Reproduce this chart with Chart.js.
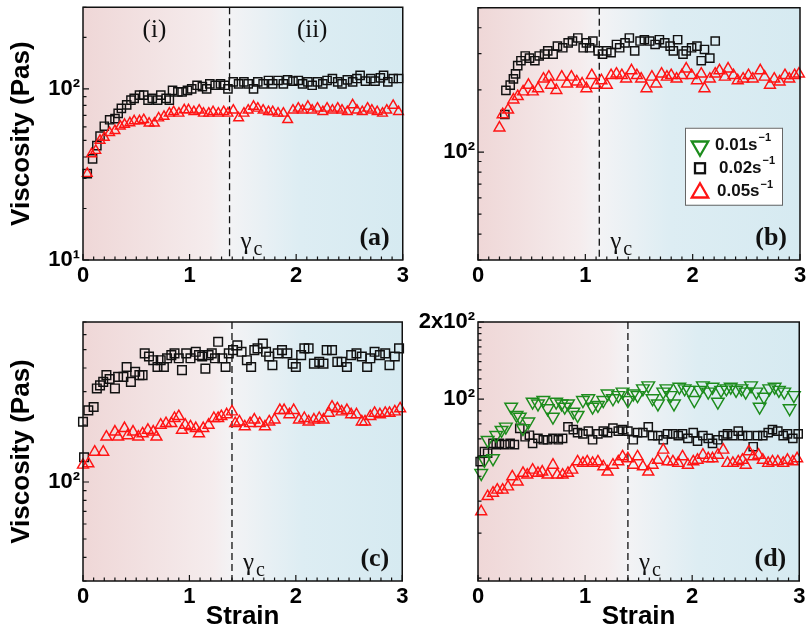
<!DOCTYPE html>
<html><head><meta charset="utf-8">
<script src="https://cdn.jsdelivr.net/npm/chart.js@4.4.1/dist/chart.umd.min.js"></script>
<style>
html,body{margin:0;padding:0;background:#fff;width:808px;height:636px;overflow:hidden;}
canvas{position:absolute;}
</style></head><body>
<canvas id="ca" width="410" height="300" style="left:0;top:0"></canvas>
<canvas id="cb" width="398" height="300" style="left:410px;top:0"></canvas>
<canvas id="cc" width="410" height="336" style="left:0;top:300px"></canvas>
<canvas id="cd" width="398" height="336" style="left:410px;top:300px"></canvas>
<script>
// ---------- data ----------
const panelLetters = ['(a)', '(b)', '(c)', '(d)'];
const gammaC = [1.375, 1.13, 1.40, 1.40];
const rateLabels = ['0.01s', '0.02s', '0.05s'];
const axisTitleY = 'Viscosity (Pas)';
const axisTitleX = 'Strain';
const regionLabels = ['(i)', '(ii)'];
const regionLabelStrain = [0.67, 2.15];

const xTickValues = Array.from({length: 31}, (_, i) => i / 10);
const xTickLabels = ['0', '1', '2', '3'];

const yRangeA = [10, 300];
const yRangeB = [30, 500];
const yRangeC = [30, 700];
const yRangeD = [19.5, 200];
const yTicksA = [10, 20, 30, 40, 50, 60, 70, 80, 90, 100, 200, 300];
const yTicksB = [30, 40, 50, 60, 70, 80, 90, 100, 200, 300, 400, 500];
const yTicksC = [30, 40, 50, 60, 70, 80, 90, 100, 200, 300, 400, 500, 600, 700];
const yTicksD = [20, 30, 40, 50, 60, 70, 80, 90, 100, 110, 120, 130, 140, 150, 160, 170, 180, 190, 200];
const yLabelValA = [10, 100];   const yLabelTxtA = ['10\u00b9', '10\u00b2'];
const yLabelValB = [100];       const yLabelTxtB = ['10\u00b2'];
const yLabelValC = [100];       const yLabelTxtC = ['10\u00b2'];
const yLabelValD = [100, 200];  const yLabelTxtD = ['10\u00b2', '2x10\u00b2'];

// (a)
const aSqStrain = [0.04,0.09,0.13,0.16,0.20,0.25,0.30,0.33,0.36,0.41,0.45,0.48,0.53,0.57,0.61,0.65,0.70,0.73,0.78,0.81,0.84,0.89,0.93,0.98,1.02,1.07,1.12,1.16,1.19,1.24,1.29,1.33,1.36,1.41,1.46,1.51,1.55,1.60,1.64,1.69,1.74,1.78,1.83,1.88,1.92,1.97,2.02,2.06,2.11,2.15,2.20,2.25,2.29,2.34,2.39,2.43,2.48,2.53,2.57,2.60,2.65,2.70,2.74,2.79,2.82,2.86,2.91,2.96];
const aSqVisc = [32,39,46.6,53,60.5,66,67,72,77,80.6,86,88,92,92,86,88,86,92,88,86,98,96,96,98,100,105,103,100,107,105,107,105,100,110,107,110,107,100,110,107,112,107,112,107,113,111,112,107,110,105,110,107,112,115,110,107,113,110,115,120,111,115,111,116,120,110,115,115];
const aTriStrain = [0.04,0.08,0.12,0.16,0.20,0.25,0.30,0.35,0.39,0.44,0.48,0.53,0.57,0.62,0.67,0.71,0.76,0.81,0.85,0.90,0.95,0.99,1.04,1.09,1.13,1.18,1.22,1.27,1.32,1.36,1.41,1.46,1.51,1.55,1.60,1.64,1.69,1.74,1.78,1.83,1.88,1.92,1.97,2.02,2.06,2.11,2.15,2.20,2.25,2.29,2.34,2.39,2.43,2.48,2.53,2.57,2.62,2.67,2.71,2.76,2.81,2.85,2.91,2.96];
const aTriVisc = [32,41.7,43.6,50,52,55.5,57,60.5,62,63.3,65,65,66,63,63,67.5,69,72,73.5,72,75.4,75.4,73.5,75,72,72,73.5,72,73.5,72,75,67.6,72,75,79,77,75,73.5,73.5,72,72,66,75,77,75,79,75,77,73.5,77,75,77,75,73.5,80.6,75,73.5,77,75,73.5,72,75,80,73.5];

// (b)
const bSqStrain = [0.25,0.26,0.30,0.33,0.35,0.37,0.40,0.44,0.48,0.53,0.57,0.62,0.65,0.70,0.74,0.79,0.84,0.88,0.93,0.98,1.01,1.04,1.07,1.12,1.16,1.20,1.24,1.29,1.32,1.37,1.41,1.46,1.51,1.55,1.60,1.65,1.69,1.74,1.79,1.82,1.86,1.91,1.94,1.99,2.04,2.08,2.11,2.16,2.21];
const bSqVisc = [152,199,211,226,239,262,277,292,285,277,292,298,309,298,326,320,338,345,357,320,338,320,345,309,298,309,303,332,320,338,357,309,345,350,345,332,350,338,326,309,350,298,309,320,326,277,314,285,345];
const bTriStrain = [0.20,0.23,0.28,0.33,0.37,0.42,0.47,0.51,0.56,0.61,0.66,0.68,0.73,0.78,0.83,0.87,0.92,0.97,1.01,1.06,1.10,1.15,1.20,1.24,1.29,1.34,1.38,1.43,1.48,1.52,1.57,1.62,1.66,1.71,1.76,1.80,1.85,1.90,1.94,1.99,2.04,2.08,2.11,2.16,2.21,2.25,2.30,2.33,2.38,2.42,2.47,2.52,2.56,2.63,2.67,2.72,2.76,2.81,2.86,2.90,2.95,2.99];
const bTriVisc = [131,152,160,179,186,196,211,196,203,226,231,211,199,231,214,231,219,214,203,235,211,222,211,235,239,235,226,248,235,226,203,231,214,239,231,235,226,235,253,235,222,239,203,226,239,248,231,253,235,222,226,235,226,248,231,211,226,219,235,226,235,239];

// (c)
const cSqStrain = [0.00,0.01,0.05,0.10,0.13,0.16,0.19,0.22,0.25,0.30,0.33,0.38,0.41,0.45,0.49,0.53,0.56,0.58,0.62,0.66,0.70,0.73,0.76,0.79,0.83,0.86,0.90,0.93,0.97,1.01,1.06,1.09,1.12,1.15,1.18,1.21,1.24,1.27,1.31,1.34,1.37,1.41,1.45,1.49,1.54,1.58,1.61,1.64,1.69,1.72,1.75,1.78,1.83,1.87,1.92,1.97,2.00,2.05,2.08,2.12,2.17,2.22,2.26,2.29,2.34,2.39,2.43,2.48,2.52,2.57,2.62,2.67,2.70,2.74,2.79,2.84,2.88,2.93,2.97];
const cSqVisc = [208,135,239,249,312,324,338,367,350,312,359,359,405,338,382,367,367,478,460,440,405,440,405,450,468,478,450,390,478,450,487,468,460,397,468,478,450,550,450,405,478,497,527,487,440,405,497,508,538,487,460,414,478,497,478,422,405,468,508,508,422,431,422,497,497,431,431,405,468,478,460,405,450,487,468,478,414,460,508];
const cTriStrain = [0.00,0.05,0.11,0.19,0.22,0.30,0.33,0.39,0.42,0.47,0.52,0.56,0.61,0.66,0.69,0.73,0.78,0.83,0.86,0.90,0.93,0.96,1.01,1.06,1.09,1.13,1.18,1.23,1.27,1.30,1.35,1.40,1.43,1.47,1.52,1.57,1.61,1.66,1.71,1.75,1.80,1.85,1.89,1.94,1.98,2.03,2.08,2.12,2.17,2.22,2.26,2.31,2.34,2.39,2.43,2.48,2.52,2.57,2.62,2.65,2.70,2.74,2.79,2.84,2.88,2.93,2.98];
const cTriVisc = [123,125,144,144,173,184,173,192,176,184,173,180,188,184,173,200,204,204,217,222,188,200,196,192,180,192,200,217,217,222,227,235,204,208,196,204,213,204,196,208,213,239,239,227,239,213,217,208,213,217,213,231,249,244,235,239,227,227,208,208,222,231,227,231,231,235,244];

// (d)
const dGrStrain = [0.03,0.06,0.09,0.14,0.17,0.22,0.26,0.31,0.36,0.39,0.42,0.47,0.51,0.56,0.61,0.65,0.70,0.73,0.78,0.81,0.84,0.89,0.93,0.98,1.03,1.07,1.12,1.17,1.21,1.26,1.31,1.35,1.40,1.45,1.49,1.54,1.59,1.63,1.68,1.73,1.76,1.80,1.83,1.88,1.93,1.97,2.02,2.07,2.10,2.15,2.19,2.24,2.27,2.32,2.36,2.41,2.46,2.50,2.55,2.60,2.63,2.67,2.72,2.77,2.81,2.86,2.91,2.95];
const dGrVisc = [51.4,57.8,69.2,58.7,72.4,75.7,78,93.3,86.6,85.3,76.9,81.6,97.6,96,99,92,85.3,97.6,96,93.3,96,89.2,86.6,99,100.6,93.3,94.8,99,105,100.6,103.5,106.8,99,105,103.5,110,113,100.6,96,106.8,110,103.5,96,111.6,110,108.5,99,108.5,113,106.8,111.6,97.6,108.5,110,111.6,108.5,110,106.8,113,106.8,93.3,102,110,111.6,108.5,106.8,92,103.5];
const dSqStrain = [0.02,0.06,0.09,0.14,0.17,0.20,0.25,0.30,0.34,0.39,0.44,0.48,0.51,0.56,0.61,0.65,0.70,0.75,0.79,0.84,0.89,0.93,0.98,1.03,1.07,1.12,1.17,1.21,1.26,1.31,1.35,1.40,1.45,1.49,1.54,1.59,1.63,1.68,1.73,1.77,1.82,1.87,1.91,1.96,2.01,2.05,2.10,2.15,2.19,2.24,2.29,2.33,2.38,2.43,2.47,2.52,2.57,2.61,2.66,2.71,2.75,2.80,2.85,2.89,2.94,2.99];
const dSqVisc = [57,62.4,61.5,67.2,66.4,67.2,66.4,67.2,66.4,76.9,71.3,72.3,67.2,70.3,69.4,69.4,70.3,69.4,70.3,78,76,74,73.2,75,69.4,73.2,75,74,77,75,76,75,69.4,74,74,78,72,72,69.4,73.2,73.2,72,73.2,70.3,74,68.6,72,70.3,67.2,69.4,72,73.2,72,75,72,72,65.2,72,72,74,76,75,72,73.2,70.3,73.2];
const dTriStrain = [0.03,0.09,0.14,0.18,0.23,0.28,0.32,0.37,0.42,0.46,0.51,0.56,0.60,0.65,0.70,0.74,0.79,0.84,0.88,0.93,0.98,1.02,1.07,1.12,1.17,1.21,1.26,1.31,1.35,1.40,1.45,1.49,1.54,1.59,1.63,1.68,1.73,1.77,1.82,1.87,1.91,1.96,2.01,2.05,2.10,2.15,2.19,2.24,2.29,2.33,2.38,2.43,2.47,2.50,2.53,2.57,2.62,2.66,2.71,2.75,2.80,2.85,2.89,2.94,2.98];
const dTriVisc = [36.4,41.7,43,44.2,44.2,45.5,49.8,47.5,51.4,50.6,52.9,51.4,52,50.6,55.3,50.6,50.6,51.4,52.9,57,56.2,57,56.2,57,54.5,52,55.3,57,59.6,58.6,55.3,59.6,54.5,52,55.3,57.8,63.3,57,57,56.2,59.6,55.3,57,57.8,60.5,58.6,58.6,60.5,63.3,56.2,56.2,57,57.8,55.3,62.4,59.6,60.5,57.8,56.2,57,57,56.2,57.8,57,58.6];

// ---------- styles ----------
const GREEN = '#1c8c1c', BLACK = '#111111', RED = '#ff1414';
const SANS = '"Liberation Sans", Arial, sans-serif';
const SERIF = '"Liberation Serif", "Times New Roman", serif';

function pts(xs, ys) { return xs.map((x, i) => ({x, y: ys[i]})); }
function series(xs, ys, kind, r) {
  const base = {data: pts(xs, ys), showLine: false, clip: false, pointBackgroundColor: 'rgba(0,0,0,0)', pointBorderWidth: 1.45, pointHoverRadius: r};
  if (kind === 'sq') return Object.assign(base, {pointStyle: 'rect', pointRadius: r, pointBorderColor: BLACK});
  if (kind === 'up') return Object.assign(base, {pointStyle: 'triangle', pointRadius: r, pointBorderColor: RED});
  return Object.assign(base, {pointStyle: 'triangle', pointRotation: 180, pointRadius: r, pointBorderColor: GREEN});
}

function tri(ctx, x, y, r, down) {
  const s = down ? -1 : 1;
  ctx.beginPath();
  ctx.moveTo(x, y - s * r);
  ctx.lineTo(x + r * 0.866, y + s * r * 0.5);
  ctx.lineTo(x - r * 0.866, y + s * r * 0.5);
  ctx.closePath();
  ctx.stroke();
}

const deco = {
  id: 'deco',
  beforeDraw(chart, args, o) {
    const {ctx, chartArea: a} = chart;
    const x = chart.scales.x;
    const fx = (x.getPixelForValue(o.gamma) - a.left) / (a.right - a.left);
    const g = ctx.createLinearGradient(a.left, 0, a.right, 0);
    g.addColorStop(0, 'rgb(239,215,215)');
    g.addColorStop(Math.max(0.01, fx - 0.06), 'rgb(245,236,237)');
    g.addColorStop(fx, 'rgb(243,243,245)');
    g.addColorStop(Math.min(0.99, fx + 0.22), 'rgb(221,237,243)');
    g.addColorStop(1, 'rgb(214,234,241)');
    ctx.save();
    ctx.fillStyle = g;
    ctx.fillRect(a.left, a.top, a.right - a.left, a.bottom - a.top);
    ctx.restore();
  },
  beforeDatasetsDraw(chart, args, o) {
    const {ctx, chartArea: a} = chart;
    const px = chart.scales.x.getPixelForValue(o.gamma);
    ctx.save();
    ctx.strokeStyle = '#111';
    ctx.lineWidth = 1.3;
    ctx.setLineDash([7, 4]);
    ctx.beginPath();
    ctx.moveTo(px, a.top);
    ctx.lineTo(px, a.bottom);
    ctx.stroke();
    ctx.setLineDash([]);
    ctx.fillStyle = '#111';
    ctx.textAlign = 'left';
    ctx.textBaseline = 'alphabetic';
    ctx.font = '25px ' + SERIF;
    ctx.fillText('\u03b3', px + 11, a.bottom - 11);
    ctx.font = '20px ' + SERIF;
    ctx.fillText('c', px + 24, a.bottom - 5);
    ctx.restore();
  },
  afterDatasetsDraw(chart, args, o) {
    const {ctx, chartArea: a} = chart;
    const xs = chart.scales.x, ys = chart.scales.y;
    ctx.save();
    // frame
    ctx.strokeStyle = '#111';
    ctx.lineWidth = 1.5;
    ctx.strokeRect(a.left, a.top, a.right - a.left, a.bottom - a.top);
    // inward ticks
    ctx.lineWidth = 1.2;
    ctx.beginPath();
    xs.ticks.forEach(t => {
      const p = xs.getPixelForValue(t.value);
      const len = t.label ? 6 : 3.5;
      ctx.moveTo(p, a.bottom);
      ctx.lineTo(p, a.bottom - len);
    });
    ys.ticks.forEach(t => {
      const p = ys.getPixelForValue(t.value);
      const len = t.label ? 6 : 3.5;
      ctx.moveTo(a.left, p);
      ctx.lineTo(a.left + len, p);
    });
    ctx.stroke();
    // panel letter
    ctx.fillStyle = '#111';
    ctx.font = 'bold 26px ' + SERIF;
    ctx.textAlign = 'right';
    ctx.textBaseline = 'alphabetic';
    ctx.fillText(o.letter, a.right - 13, a.bottom - 15);
    // region labels
    if (o.roman) {
      ctx.font = '25px ' + SERIF;
      ctx.textAlign = 'center';
      regionLabels.forEach((s, i) => {
        ctx.fillText(s, xs.getPixelForValue(regionLabelStrain[i]), a.top + 30);
      });
    }
    // legend
    if (o.legend) {
      const bx = a.left + 207, by = a.top + 120, bw = a.right - 18 - bx, bh = 77;
      ctx.fillStyle = '#ffffff';
      ctx.fillRect(bx, by, bw, bh);
      ctx.strokeStyle = '#666';
      ctx.lineWidth = 1;
      ctx.strokeRect(bx + 0.5, by + 0.5, bw, bh);
      const rowY = [a.top + 137.5, a.top + 160.5, a.top + 184];
      const mx = a.left + 222;
      ctx.lineWidth = 2.3;
      ctx.strokeStyle = GREEN; tri(ctx, mx, rowY[0] + 1, 9.5, true);
      ctx.strokeStyle = BLACK; ctx.strokeRect(mx - 5, rowY[1] - 5, 10, 10);
      ctx.strokeStyle = RED; tri(ctx, mx, rowY[2] + 1, 9.5, false);
      const tx = [a.left + 237, a.left + 241, a.left + 239];
      ctx.fillStyle = '#111';
      ctx.textAlign = 'left';
      ctx.textBaseline = 'middle';
      rateLabels.forEach((s, i) => {
        ctx.font = 'bold 17px ' + SANS;
        ctx.fillText(s, tx[i], rowY[i]);
        const w = ctx.measureText(s).width;
        ctx.font = 'bold 11px ' + SANS;
        ctx.fillText('\u22121', tx[i] + w + 1, rowY[i] - 7);
      });
    }
    ctx.restore();
  }
};

function makeChart(id, p) {
  const labelOf = (v) => {
    const i = p.yLabelVal.findIndex(u => Math.abs(u - v) < 1e-9);
    return i >= 0 ? p.yLabelTxt[i] : '';
  };
  return new Chart(document.getElementById(id), {
    type: 'scatter',
    data: {datasets: p.datasets},
    options: {
      responsive: false,
      animation: false,
      events: [],
      layout: {padding: {top: p.padTop, right: p.padRight, left: 0, bottom: 0}},
      plugins: {
        legend: {display: false},
        tooltip: {enabled: false},
        deco: {gamma: p.gamma, letter: p.letter, roman: p.roman, legend: p.legend}
      },
      scales: {
        x: {
          type: 'linear', min: 0, max: 3,
          afterBuildTicks: s => { s.ticks = xTickValues.map(v => ({value: v})); },
          afterFit: s => { s.height = p.xHeight; s.paddingLeft = 0; s.paddingRight = 0; },
          grid: {display: false, drawTicks: false},
          border: {display: false},
          ticks: {
            autoSkip: false, maxRotation: 0, minRotation: 0, padding: 3, color: '#000',
            font: {family: SANS, size: 22, weight: 'bold'},
            callback: v => {
              const r = Math.round(v);
              return Math.abs(v - r) < 1e-6 ? xTickLabels[r] : '';
            }
          },
          title: {display: p.xTitle, text: axisTitleX, color: '#000', padding: {top: 0, bottom: 4},
                  font: {family: SANS, size: 26, weight: 'bold'}}
        },
        y: {
          type: 'logarithmic', min: p.yRange[0], max: p.yRange[1],
          afterBuildTicks: s => { s.ticks = p.yTicks.map(v => ({value: v})); },
          afterFit: s => { s.width = p.yWidth; s.paddingTop = 0; s.paddingBottom = 0; },
          grid: {display: false, drawTicks: false},
          border: {display: false},
          ticks: {
            autoSkip: false, padding: 3, color: '#000',
            font: {family: SANS, size: 22, weight: 'bold'},
            callback: v => labelOf(v)
          },
          title: {display: p.yTitle, text: axisTitleY, color: '#000', padding: {top: 6, bottom: 0},
                  font: {family: SANS, size: 26, weight: 'bold'}}
        }
      }
    },
    plugins: [deco]
  });
}

makeChart('ca', {
  datasets: [series(aTriStrain, aTriVisc, 'up', 5.6), series(aSqStrain, aSqVisc, 'sq', 5.8)],
  yRange: yRangeA, yTicks: yTicksA, yLabelVal: yLabelValA, yLabelTxt: yLabelTxtA,
  padTop: 2, padRight: 4, yWidth: 83, xHeight: 40, yTitle: true, xTitle: false,
  gamma: gammaC[0], letter: panelLetters[0], roman: true, legend: false
});
makeChart('cb', {
  datasets: [series(bTriStrain, bTriVisc, 'up', 6.3), series(bSqStrain, bSqVisc, 'sq', 5.8)],
  yRange: yRangeB, yTicks: yTicksB, yLabelVal: yLabelValB, yLabelTxt: yLabelTxtB,
  padTop: 2, padRight: 8, yWidth: 68, xHeight: 40, yTitle: false, xTitle: false,
  gamma: gammaC[1], letter: panelLetters[1], roman: false, legend: true
});
makeChart('cc', {
  datasets: [series(cTriStrain, cTriVisc, 'up', 6.3), series(cSqStrain, cSqVisc, 'sq', 6.1)],
  yRange: yRangeC, yTicks: yTicksC, yLabelVal: yLabelValC, yLabelTxt: yLabelTxtC,
  padTop: 22, padRight: 4, yWidth: 83, xHeight: 55, yTitle: true, xTitle: true,
  gamma: gammaC[2], letter: panelLetters[2], roman: false, legend: false
});
makeChart('cd', {
  datasets: [series(dGrStrain, dGrVisc, 'down', 7.3), series(dTriStrain, dTriVisc, 'up', 6.3), series(dSqStrain, dSqVisc, 'sq', 5.8)],
  yRange: yRangeD, yTicks: yTicksD, yLabelVal: yLabelValD, yLabelTxt: yLabelTxtD,
  padTop: 22, padRight: 8, yWidth: 68, xHeight: 55, yTitle: false, xTitle: true,
  gamma: gammaC[3], letter: panelLetters[3], roman: false, legend: false
});
</script>
</body></html>
